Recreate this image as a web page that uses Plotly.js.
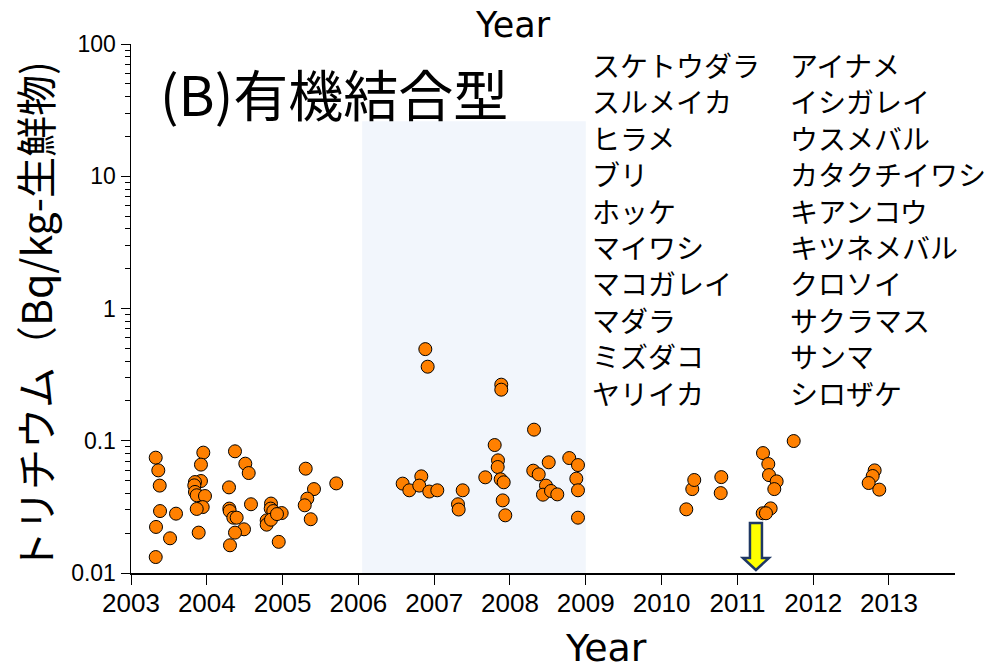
<!DOCTYPE html>
<html>
<head>
<meta charset="utf-8">
<script src="https://cdn.plot.ly/plotly-3.0.1.min.js"></script>
<style>html,body{margin:0;padding:0;background:#fff;}#chart{width:996px;height:672px;}</style>
</head>
<body>
<div id="chart"></div>
<script>
// Sample year (decimal) and tritium concentration (Bq/kg fresh)
const years = [
  2003.326,2003.360,2003.379,2003.383,2003.594,2003.330,2003.515,2003.326,
  2003.954,2003.923,2003.923,2003.844,2003.835,2003.844,2003.867,2003.976,2003.946,2003.867,2003.893,
  2004.372,2004.508,2004.553,2004.293,2004.583,2004.297,2004.302,2004.350,2004.394,2004.491,2004.372,2004.306,
  2004.847,2004.843,2004.877,2004.988,2004.790,2004.790,2004.847,2004.926,2004.949,
  2005.305,2005.414,2005.326,2005.292,2005.371,2005.708,
  2006.883,2006.914,2007.885,2007.885,2008.317,2007.798,2007.842,2007.838,2007.877,2007.917,2007.904,2007.938,2007.674,
  2006.584,2006.672,2006.830,2006.803,2006.935,2007.041,2007.376,2007.314,2007.323,
  2008.307,2008.379,2008.511,2008.782,2008.897,2008.875,2008.897,2008.897,2008.475,2008.435,2008.541,2008.624,
  2010.326,2010.405,2010.431,2010.788,2010.780,
  2011.743,2011.338,2011.408,2011.417,2011.518,2011.487,2011.439,2011.334,2011.377,
  2012.811,2012.785,2012.732,2012.872
];
const values = [
  0.0745,0.0597,0.0458,0.0294,0.0281,0.0223,0.0183,0.0132,
  0.0813,0.066,0.0496,0.0487,0.046,0.041,0.0387,0.0382,0.0315,0.0305,0.0202,
  0.0832,0.0671,0.057,0.0444,0.0331,0.0307,0.0294,0.0262,0.0262,0.0214,0.0202,0.0162,
  0.0335,0.0307,0.0294,0.0284,0.025,0.0232,0.0253,0.0279,0.0172,
  0.0615,0.0431,0.0365,0.0325,0.0255,0.0476,
  0.493,0.363,0.2655,0.2433,0.1213,0.0928,0.0711,0.0633,0.0511,0.0485,0.0354,0.0273,0.0529,
  0.0474,0.0422,0.0538,0.0458,0.0413,0.0422,0.0422,0.0331,0.0302,
  0.0594,0.0557,0.0687,0.074,0.0655,0.0517,0.0422,0.0262,0.0458,0.0391,0.0417,0.0393,
  0.0303,0.0431,0.0505,0.0531,0.0402,
  0.0995,0.0807,0.0667,0.055,0.0493,0.0431,0.0308,0.0283,0.0283,
  0.0597,0.0541,0.0479,0.0427
];
const xTickVals = [2003,2004,2005,2006,2007,2008,2009,2010,2011,2012,2013];
const xTickText = ['2003','2004','2005','2006','2007','2008','2009','2010','2011','2012','2013'];
const yTickVals = [0.01,0.1,1,10,100];
const yTickText = ['0.01','0.1','1','10','100'];
const speciesCol1 = ['スケトウダラ','スルメイカ','ヒラメ','ブリ','ホッケ','マイワシ','マコガレイ','マダラ','ミズダコ','ヤリイカ'];
const speciesCol2 = ['アイナメ','イシガレイ','ウスメバル','カタクチイワシ','キアンコウ','キツネメバル','クロソイ','サクラマス','サンマ','シロザケ'];
const shadeStart = 2006.05, shadeEnd = 2009.0, shadeTop = 26;
const accidentYear = 2011.245;

const minorVals = [];
for (let e = -2; e < 2; e++) for (let m = 2; m <= 9; m++) minorVals.push(m * Math.pow(10, e));

const trace = {
  x: years, y: values, type: 'scatter', mode: 'markers',
  marker: {size: 13, color: '#FF8000', line: {color: '#000000', width: 1}},
  showlegend: false, hoverinfo: 'x+y'
};

const CJK = '"Noto Sans CJK JP", "Noto Sans", sans-serif';
const PL = 131, PW = 824, PB = 573, PH = 529;
const px = v => (v - PL) / PW;
const py = v => (PB - v) / PH;
const listFont = 28, listCenter = 229;

const annotations = [
  {text: 'トリチウム（Bq/kg-生鮮物)', textangle: -90, xref: 'paper', yref: 'paper',
   x: px(34), y: py(317), xanchor: 'center', yanchor: 'middle', showarrow: false,
   font: {family: CJK, size: 41, color: '#000'}},
  {text: '(B)有機結合型', xref: 'paper', yref: 'paper', x: px(158), y: py(92),
   xanchor: 'left', yanchor: 'middle', showarrow: false, font: {family: CJK, size: 55, color: '#000'}},
  {text: 'Year', xref: 'paper', yref: 'paper', x: px(606), y: py(648),
   xanchor: 'center', yanchor: 'middle', showarrow: false,
   font: {family: '"DejaVu Sans", Verdana, sans-serif', size: 38, color: '#000'}},
  {text: speciesCol1.join('<br>'), align: 'left', xref: 'paper', yref: 'paper',
   x: px(590), y: py(listCenter), xanchor: 'left', yanchor: 'middle', showarrow: false,
   font: {family: CJK, size: listFont, color: '#000'}},
  {text: speciesCol2.join('<br>'), align: 'left', xref: 'paper', yref: 'paper',
   x: px(788), y: py(listCenter), xanchor: 'left', yanchor: 'middle', showarrow: false,
   font: {family: CJK, size: listFont, color: '#000'}}
];

const layout = {
  width: 996, height: 672,
  margin: {l: PL, r: 996 - PL - PW, t: PB - PH, b: 672 - PB},
  paper_bgcolor: '#ffffff', plot_bgcolor: 'rgba(0,0,0,0)',
  title: {text: 'Year', x: 513/996, xanchor: 'center', xref: 'container', y: 1 - 25/672, yanchor: 'middle', yref: 'container',
          font: {family: '"DejaVu Sans", Verdana, sans-serif', size: 35, color: '#000'}},
  xaxis: {
    range: [2003, 2013.871], showgrid: false, zeroline: false,
    showline: true, linecolor: '#000', linewidth: 1.5,
    tickmode: 'array', tickvals: xTickVals, ticktext: xTickText,
    ticks: 'outside', ticklen: 10, tickcolor: '#000', tickwidth: 1, ticklabelstandoff: -4,
    tickfont: {family: '"Liberation Sans", Arial, sans-serif', size: 26, color: '#000'}
  },
  yaxis: {
    type: 'log', range: [-2, 2], showgrid: false, zeroline: false,
    showline: true, linecolor: '#000', linewidth: 1.5,
    tickmode: 'array', tickvals: yTickVals, ticktext: yTickText,
    ticks: 'outside', ticklen: 9, tickcolor: '#000', tickwidth: 1,
    tickfont: {family: '"Liberation Sans", Arial, sans-serif', size: 23, color: '#000'},
    minor: {tickmode: 'array', tickvals: minorVals, ticks: 'outside', ticklen: 5, tickcolor: '#000', tickwidth: 1, showgrid: false}
  },
  shapes: [
    {type: 'rect', xref: 'x', yref: 'y', x0: shadeStart, x1: shadeEnd, y0: 0.01, y1: shadeTop,
     fillcolor: 'rgb(242,246,252)', line: {width: 0}, layer: 'below'},
    {type: 'path', xref: 'x', yref: 'y', xsizemode: 'pixel', ysizemode: 'pixel',
     xanchor: accidentYear, yanchor: 0.01,
     path: 'M -6 50 L 6 50 L 6 15 L 13 15 L 0 3 L -13 15 L -6 15 Z',
     fillcolor: '#FFFF00', line: {color: '#1F3864', width: 2.5}, layer: 'above'}
  ],
  annotations: annotations
};

Plotly.newPlot('chart', [trace], layout, {displayModeBar: false, staticPlot: true});
</script>
</body>
</html>
